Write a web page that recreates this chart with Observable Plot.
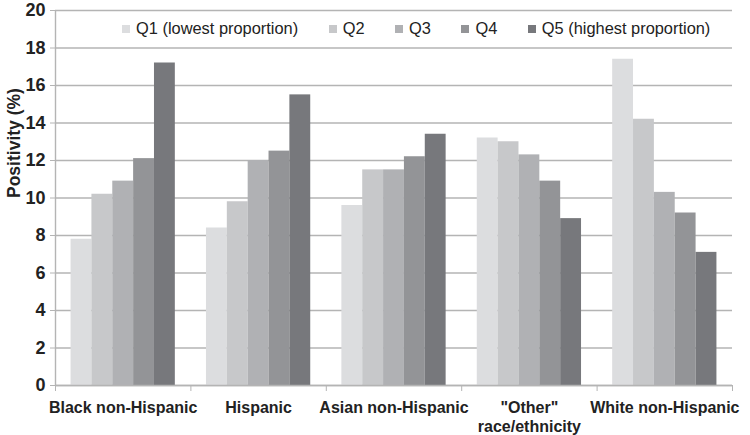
<!DOCTYPE html>
<html>
<head>
<meta charset="utf-8">
<script src="https://cdn.jsdelivr.net/npm/d3@7"></script>
<script src="https://cdn.jsdelivr.net/npm/@observablehq/plot@0.6"></script>
<style>
  html, body { margin: 0; padding: 0; background: #fff; }
  #wrap { position: relative; width: 750px; height: 435px; font-family: "Liberation Sans", Arial, Helvetica, sans-serif; }
  #legend { position: absolute; left: 122px; top: 19px; display: flex; align-items: center; font-size: 16.4px; color: #222; white-space: nowrap; }
  #legend .item { display: flex; align-items: center; margin-right: 30.5px; }
  #legend .sw { width: 8px; height: 8px; margin-right: 6px; }
</style>
</head>
<body>
<div id="wrap"><div id="legend"></div></div>
<script>
// Data
const categories = ["Black non-Hispanic", "Hispanic", "Asian non-Hispanic", "\"Other\"\nrace/ethnicity", "White non-Hispanic"];
const quintiles = ["Q1 (lowest proportion)", "Q2", "Q3", "Q4", "Q5 (highest proportion)"];
const q1 = [7.8, 8.4, 9.6, 13.2, 17.4];
const q2 = [10.2, 9.8, 11.5, 13.0, 14.2];
const q3 = [10.9, 12.0, 11.5, 12.3, 10.3];
const q4 = [12.1, 12.5, 12.2, 10.9, 9.2];
const q5 = [17.2, 15.5, 13.4, 8.9, 7.1];
const yTicks = [0, 2, 4, 6, 8, 10, 12, 14, 16, 18, 20];
const colors = ["#dcdddf", "#c7c8ca", "#b0b1b4", "#939497", "#77787c"];

const series = [q1, q2, q3, q4, q5];
const groupPad = 0.115;                 // fraction of each category slot left empty on each side
const barW = (1 - 2 * groupPad) / quintiles.length;
const rows = [];
categories.forEach((c, i) => {
  series.forEach((s, q) => {
    rows.push({category: c, ci: i, quintile: quintiles[q], qi: q, value: s[i]});
  });
});

const gridColor = "#b4b4b4";

const chart = Plot.plot({
  width: 750,
  height: 435,
  marginLeft: 55,
  marginRight: 18,
  marginTop: 10,
  marginBottom: 50,
  style: {fontFamily: "'Liberation Sans', Arial, Helvetica, sans-serif", background: "#fff", color: "#222"},
  x: {domain: [0, categories.length], axis: null},
  y: {domain: [0, 20], axis: null},
  color: {domain: quintiles, range: colors},
  marks: [
    Plot.gridY(yTicks, {stroke: gridColor, strokeOpacity: 1, strokeWidth: 1.4}),
    Plot.rect(rows, {
      x1: d => d.ci + groupPad + d.qi * barW,
      x2: d => d.ci + groupPad + (d.qi + 1) * barW,
      y1: 0,
      y2: "value",
      fill: "quintile"
    }),
    Plot.ruleX([0], {stroke: gridColor, strokeWidth: 1.4}),
    Plot.ruleY([0], {stroke: gridColor, strokeWidth: 1.4}),
    Plot.axisY({ticks: yTicks, tickSize: 5, tickPadding: 5, stroke: gridColor, fill: "#222", fontSize: 18, fontWeight: "bold", tickFormat: d => String(d), label: null}),
    Plot.axisX({ticks: d3.range(categories.length + 1), tickSize: 6, stroke: gridColor, tickFormat: () => "", label: null}),
    Plot.axisX({ticks: categories.map((c, i) => i + 0.5), tickSize: 0, tickPadding: 14, fill: "#222", fontSize: 16, fontWeight: "bold", lineHeight: 1.2,
      tickFormat: d => categories[Math.floor(d)], label: null}),
    Plot.text(["Positivity (%)"], {frameAnchor: "left", rotate: -90, dx: -41, fontSize: 17.5, fontWeight: "bold", fill: "#222"})
  ]
});
document.getElementById("wrap").prepend(chart);

const legend = d3.select("#legend");
quintiles.forEach((q, i) => {
  const it = legend.append("div").attr("class", "item");
  it.append("div").attr("class", "sw").style("background", colors[i]);
  it.append("span").text(q);
});
</script>
</body>
</html>
